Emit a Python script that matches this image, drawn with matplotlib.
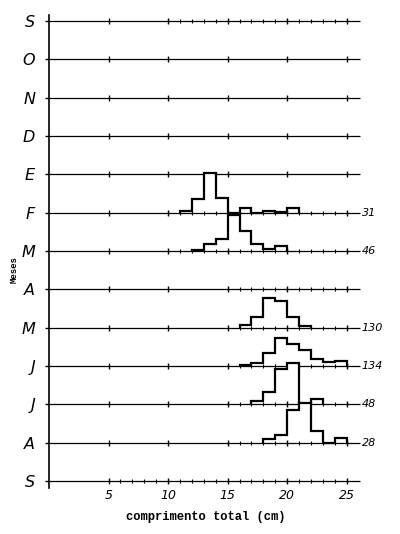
import numpy as np
import matplotlib.pyplot as plt

# month labels, top to bottom
meses = ['S', 'O', 'N', 'D', 'E', 'F', 'M', 'A', 'M', 'J', 'J', 'A', 'S']

# length-frequency (%) per 1 cm class, first class start (cm), sample size
fev_start, fev_n = 11, 31
fev = [2, 15, 43, 16, 0, 5, 0, 2, 1, 5]
mar_start, mar_n = 12, 46
mar = [1, 8, 13, 39, 22, 8, 2, 5]
mai_start, mai_n = 16, 130
mai = [3, 12, 32, 29, 12, 2]
jun_start, jun_n = 16, 134
jun = [1, 3, 14, 31, 24, 17, 8, 4, 5]
jul_start, jul_n = 17, 48
jul = [4, 14, 39, 45, 0, 6]
ago_start, ago_n = 18, 28
ago = [4, 8, 36, 43, 13, 0, 5]

xticks = [5, 10, 15, 20, 25]
# where the 1 cm small ticks start on each row (None = only the big ones)
minor_from = [10, None, None, None, None, 10, 10, 15, 15, 15, 15, 15, 5]

R = 42  # spacing between rows, in %
nrows = len(meses)
bases = [(nrows - 1 - i) * R for i in range(nrows)]

hists = {5: (fev_start, fev, fev_n), 6: (mar_start, mar, mar_n),
         8: (mai_start, mai, mai_n), 9: (jun_start, jun, jun_n),
         10: (jul_start, jul, jul_n), 11: (ago_start, ago, ago_n)}

fig = plt.figure(figsize=(4, 5.34), dpi=100)
ax = fig.add_axes([49 / 400, 46 / 534, 312 / 400, 473 / 534])
ax.set_xlim(0, 26.2)
ax.set_ylim(-7.7, 510.6)

for i, b in enumerate(bases):
    z = 3 + i * 0.1
    ax.hlines(b, 0, 26.1, color='black', lw=0.9, zorder=z + 0.02)
    ax.vlines(xticks, b - 3.3, b + 3.3, color='black', lw=1.0, zorder=z + 0.02)
    if minor_from[i] is not None:
        mt = np.arange(minor_from[i], 26)
        ax.vlines(mt, b - 2.2, b + 2.2, color='black', lw=0.8, zorder=z + 0.02)
    if i in hists:
        start, vals, n = hists[i]
        vals = np.array(vals, dtype=float)
        edges = np.arange(start, start + len(vals) + 1)
        ax.stairs(b + vals, edges, baseline=b, fill=True, color='white', zorder=z)
        ax.stairs(b + vals, edges, baseline=b, color='black', lw=1.6, zorder=z + 0.05)
        ax.text(26.25, b, str(n), ha='left', va='center', fontsize=8,
                style='italic', clip_on=False)

for s in ['top', 'right', 'bottom']:
    ax.spines[s].set_visible(False)
ax.spines['left'].set_linewidth(1.2)

ax.set_xticks(xticks)
ax.tick_params(axis='x', length=0, pad=1, labelsize=9)
for lbl in ax.get_xticklabels():
    lbl.set_style('italic')

ax.set_yticks(bases, labels=meses)
ax.tick_params(axis='y', length=3, width=1, pad=7, labelsize=11.5)
for lbl in ax.get_yticklabels():
    lbl.set_style('italic')

fig.text(14 / 400, 1 - 270 / 534, 'Meses', rotation=90, family='Liberation Mono',
         weight='bold', fontsize=6.5, ha='center', va='center')
fig.text(206 / 400, 1 - 517 / 534, 'comprimento total (cm)', family='Liberation Mono',
         weight='bold', fontsize=8.7, ha='center', va='center')

fig.savefig('out.png', dpi=100, facecolor='white')
